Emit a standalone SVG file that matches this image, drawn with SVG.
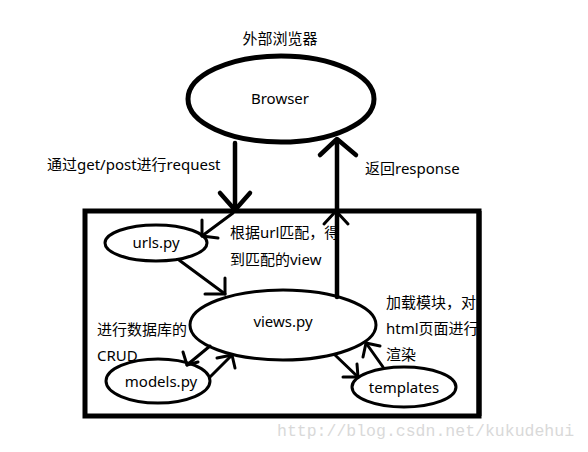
<svg xmlns="http://www.w3.org/2000/svg" width="588" height="452" viewBox="0 0 588 452">
<style>
text{font-family:"Noto Sans","Noto Sans CJK SC",sans-serif;font-size:15px;fill:#000;dominant-baseline:central}
.n{fill:#fff;stroke:#000;stroke-width:3}
.c line,.c polyline{stroke:#000;fill:none;stroke-linecap:round;stroke-linejoin:round}
.t{stroke-width:4.5}
.m{stroke-width:3}
.wm{font-family:"Liberation Mono",monospace;font-size:16.5px;fill:#d9d9d9}
</style>
<rect x="85" y="211" width="394" height="205" fill="none" stroke="#000" stroke-width="5"/>
<g id="browser"><ellipse class="n" cx="281" cy="99" rx="93" ry="43" style="stroke-width:5"/><text x="280" y="98" text-anchor="middle">Browser</text></g>
<g id="urls"><ellipse class="n" cx="156" cy="243" rx="51" ry="18"/><text x="156" y="242" text-anchor="middle">urls.py</text></g>
<g id="views"><ellipse class="n" cx="283" cy="325" rx="93" ry="35"/><text x="283" y="321" text-anchor="middle">views.py</text></g>
<g id="models"><ellipse class="n" cx="158" cy="381" rx="52" ry="22"/><text x="161" y="381" text-anchor="middle">models.py</text></g>
<g id="templates"><ellipse class="n" cx="404" cy="387" rx="52" ry="20"/><text x="404" y="387" text-anchor="middle">templates</text></g>
<g class="c">
<line class="t" x1="235" y1="143" x2="235" y2="210"/>
<polyline class="t" points="220,193 235,210 250,193"/>
<line class="t" x1="337" y1="297" x2="337" y2="140"/>
<polyline class="t" points="320,155 337,139 356,155"/>
<polyline class="m" points="324,224 336,211 348,224"/>
<line class="m" x1="233" y1="213" x2="202" y2="236"/>
<polyline class="m" points="202,220 202,236 218,238"/>
<line class="m" x1="179" y1="260" x2="225" y2="294"/>
<polyline class="m" points="225,278 225,294 205,294"/>
<line class="m" x1="210" y1="346" x2="187" y2="365"/>
<polyline class="m" points="183,352 187,365 198,362"/>
<line class="m" x1="210" y1="377" x2="232" y2="355"/>
<polyline class="m" points="217,358 232,355 235,368"/>
<line class="m" x1="335" y1="355" x2="358" y2="377"/>
<polyline class="m" points="357,364 358,377 343,377"/>
<line class="m" x1="383" y1="367" x2="366" y2="343"/>
<polyline class="m" points="363,357 366,343 380,346"/>
</g>
<text x="280" y="38" text-anchor="middle">外部浏览器</text>
<text x="47" y="164">通过get/post进行request</text>
<text x="365" y="168">返回response</text>
<text x="230" y="232">根据url匹配，得</text>
<text x="230" y="259">到匹配的view</text>
<text x="386" y="302">加载模块，对</text>
<text x="386" y="328">html页面进行</text>
<text x="386" y="354">渲染</text>
<text x="97" y="329">进行数据库的</text>
<text x="97" y="355">CRUD</text>
<rect x="476.5" y="211" width="5" height="205" fill="#000"/>
<text class="wm" x="277" y="431">http://blog.csdn.net/kukudehui</text>
</svg>
